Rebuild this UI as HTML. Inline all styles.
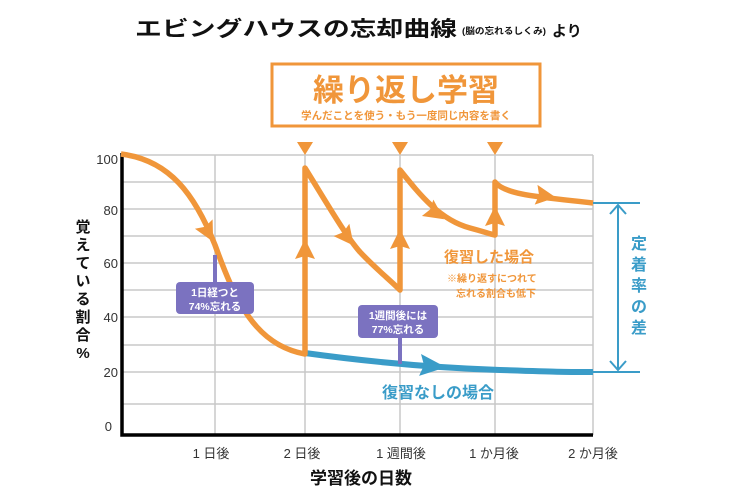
<!DOCTYPE html>
<html><head><meta charset="utf-8"><style>
body{margin:0;background:#fff}
svg{display:block}
text{font-family:"Liberation Sans","Noto Sans CJK JP",sans-serif}
</style></head><body>
<svg width="740" height="498" viewBox="0 0 740 498" xmlns="http://www.w3.org/2000/svg">
<text x="135" y="36" font-size="21" font-weight="bold" fill="#111" textLength="322" lengthAdjust="spacingAndGlyphs">エビングハウスの忘却曲線</text>
<text x="462" y="34" font-size="9" font-weight="bold" fill="#111" textLength="84" lengthAdjust="spacingAndGlyphs">(脳の忘れるしくみ)</text>
<text x="552" y="36" font-size="15" font-weight="bold" fill="#111">より</text>
<rect x="272" y="64" width="268" height="62" fill="#fff" stroke="#f0963a" stroke-width="3"/>
<text x="406" y="101" font-size="31" font-weight="bold" fill="#f0963a" text-anchor="middle">繰り返し学習</text>
<text x="406" y="119" font-size="10.5" font-weight="bold" fill="#f0963a" text-anchor="middle">学んだことを使う・もう一度同じ内容を書く</text>
<g stroke="#c8c8c8" stroke-width="1.5">
<line x1="122" y1="155" x2="593" y2="155"/><line x1="122" y1="182" x2="593" y2="182"/>
<line x1="122" y1="209" x2="593" y2="209"/><line x1="122" y1="236" x2="593" y2="236"/>
<line x1="122" y1="263" x2="593" y2="263"/><line x1="122" y1="290" x2="593" y2="290"/>
<line x1="122" y1="317" x2="593" y2="317"/><line x1="122" y1="345" x2="593" y2="345"/>
<line x1="122" y1="372" x2="593" y2="372"/><line x1="122" y1="404" x2="593" y2="404"/>
<line x1="215" y1="155" x2="215" y2="435"/><line x1="305" y1="155" x2="305" y2="435"/>
<line x1="400" y1="155" x2="400" y2="435"/><line x1="495" y1="155" x2="495" y2="435"/>
<line x1="593" y1="155" x2="593" y2="435"/>
</g>
<path d="M122,153V435H593" fill="none" stroke="#000" stroke-width="3.5"/>
<g font-size="13" fill="#333" text-anchor="end">
<text x="118" y="164">100</text><text x="118" y="215">80</text><text x="118" y="268">60</text>
<text x="118" y="322">40</text><text x="118" y="377">20</text><text x="112" y="431">0</text>
</g>
<g font-size="13" fill="#333" text-anchor="middle">
<text x="211" y="458">1 日後</text><text x="302" y="458">2 日後</text><text x="401" y="458">1 週間後</text>
<text x="494" y="458">1 か月後</text><text x="593" y="458">2 か月後</text>
</g>
<text x="361" y="484" font-size="17" font-weight="bold" fill="#111" text-anchor="middle">学習後の日数</text>
<g font-size="15" font-weight="bold" fill="#111" text-anchor="middle">
<text x="83" y="232">覚</text><text x="83" y="250">え</text><text x="83" y="268">て</text><text x="83" y="286">い</text>
<text x="83" y="304">る</text><text x="83" y="322">割</text><text x="83" y="340">合</text><text x="83" y="358">%</text>
</g>
<path d="M305,353 C370,362 440,368 500,370 S560,372 593,372" fill="none" stroke="#3a9cc8" stroke-width="6"/>
<path transform="translate(432,366) rotate(5)" d="M14,0 L-12,-11 L-8,0 L-12,11z" fill="#3a9cc8"/>
<text x="382" y="398" font-size="16" font-weight="bold" fill="#3a9cc8">復習なしの場合</text>
<g fill="none" stroke="#f0963a" stroke-width="5.5" stroke-linejoin="round">
<path d="M121,154 C170,160 195,195 215,245 C235,300 255,345 305,354 V168 C325,200 345,235 360,252 C375,268 390,280 400,290 V170 C420,195 440,220 470,228 C485,232 490,234 495,235 V182 C505,195 540,197 593,203"/>
</g>
<g fill="#f0963a">
<path transform="translate(208,232) rotate(62)" d="M11,0 L-9,-10 L-6,0 L-9,10z"/>
<path transform="translate(305,250) rotate(-90)" d="M11,0 L-9,-10 L-6,0 L-9,10z"/>
<path transform="translate(347,237) rotate(52)" d="M11,0 L-9,-10 L-6,0 L-9,10z"/>
<path transform="translate(400,240) rotate(-90)" d="M11,0 L-9,-10 L-6,0 L-9,10z"/>
<path transform="translate(435,213) rotate(35)" d="M11,0 L-9,-10 L-6,0 L-9,10z"/>
<path transform="translate(495,217) rotate(-90)" d="M11,0 L-9,-10 L-6,0 L-9,10z"/>
<path transform="translate(545,196) rotate(8)" d="M11,0 L-9,-10 L-6,0 L-9,10z"/>
<path d="M297,142 L313,142 L305,155z"/>
<path d="M392,142 L408,142 L400,155z"/>
<path d="M487,142 L503,142 L495,155z"/>
</g>
<text x="444" y="262" font-size="15" font-weight="bold" fill="#f0963a">復習した場合</text>
<text x="447" y="282" font-size="10" font-weight="bold" fill="#f0963a">※繰り返すにつれて</text>
<text x="456" y="297" font-size="10" font-weight="bold" fill="#f0963a">忘れる割合も低下</text>
<rect x="213" y="255" width="4" height="30" fill="#7b72c0"/>
<rect x="176" y="282" width="78" height="32" rx="4" fill="#7b72c0"/>
<text x="215" y="296" font-size="10.5" font-weight="bold" fill="#fff" text-anchor="middle">1日経つと</text>
<text x="215" y="310" font-size="10.5" font-weight="bold" fill="#fff" text-anchor="middle">74%忘れる</text>
<rect x="398" y="336" width="4" height="28" fill="#7b72c0"/>
<rect x="358" y="305" width="80" height="33" rx="4" fill="#7b72c0"/>
<text x="398" y="319" font-size="10.5" font-weight="bold" fill="#fff" text-anchor="middle">1週間後には</text>
<text x="398" y="333" font-size="10.5" font-weight="bold" fill="#fff" text-anchor="middle">77%忘れる</text>
<g stroke="#3a9cc8" stroke-width="2" fill="none">
<line x1="593" y1="203" x2="640" y2="203"/><line x1="593" y1="372" x2="640" y2="372"/>
<line x1="618" y1="205" x2="618" y2="370"/>
<path d="M610,214 L618,205 L626,214"/><path d="M610,361 L618,370 L626,361"/>
</g>
<g font-size="16" font-weight="bold" fill="#3a9cc8" text-anchor="middle">
<text x="639" y="249">定</text><text x="639" y="270">着</text><text x="639" y="291">率</text>
<text x="639" y="312">の</text><text x="639" y="333">差</text>
</g>
</svg>
</body></html>
